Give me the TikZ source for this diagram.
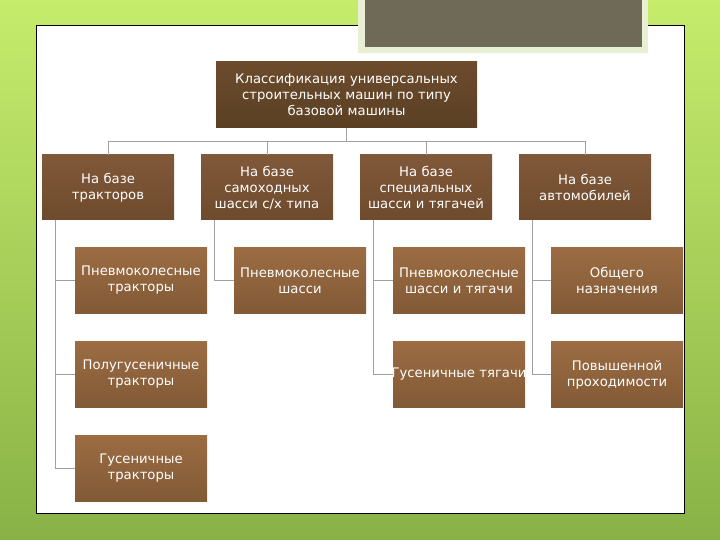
\documentclass[tikz,border=0pt]{standalone}
\usepackage{fontspec}
\setmainfont{DejaVu Sans}
\definecolor{bgtop}{HTML}{C6EC6C}
\definecolor{bgbot}{HTML}{88B246}
\definecolor{frameout}{HTML}{E9EFD5}
\definecolor{framein}{HTML}{6F6A58}
\definecolor{rootA}{HTML}{6C4B2C}
\definecolor{rootB}{HTML}{5A4024}
\definecolor{lvlA}{HTML}{80583A}
\definecolor{lvlB}{HTML}{6E4B2C}
\definecolor{leafA}{HTML}{9C6C43}
\definecolor{leafB}{HTML}{815A36}
\definecolor{connc}{HTML}{A0A0A0}
\begin{document}
\begin{tikzpicture}[x=1pt,y=-1pt,
  basebox/.style={rectangle, inner sep=0pt, text=white, align=center,
     font=\fontsize{13.2}{16}\selectfont},
  rootbox/.style={basebox, minimum width=261pt, minimum height=66pt, text width=258pt,
     top color=rootA, bottom color=rootB},
  lvlbox/.style={basebox, minimum width=132pt, minimum height=65pt, text width=132pt,
     top color=lvlA, bottom color=lvlB},
  leafbox/.style={basebox, minimum width=132pt, minimum height=66pt, text width=132pt,
     top color=leafA, bottom color=leafB},
  conn/.style={draw=connc, line width=0.7pt}]
\useasboundingbox (0,0) rectangle (720,540);
% background
\shade[top color=bgtop, bottom color=bgbot] (0,0) rectangle (720,540);
% white panel
\draw[fill=white, draw=black, line width=1pt] (36,26) rectangle (684,513);
% top photo frame
\fill[frameout] (358,-2) rectangle (648,53);
\fill[framein] (365,-2) rectangle (642,47);

% nodes
\node[rootbox] (top) at (346.5,95) {Классификация универсальных\\строительных машин по типу\\базовой машины};

\node[lvlbox] (b1) at (108,187.5) {На базе\\тракторов};
\node[lvlbox] (b2) at (267,187.5) {На базе\\самоходных\\шасси с/х типа};
\node[lvlbox] (b3) at (426,187.5) {На базе\\специальных\\шасси и тягачей};
\node[lvlbox] (b4) at (585,187.5) {На базе\\автомобилей};

\node[leafbox] (c11) at (141,280.5) {\makebox[0pt][c]{Пневмоколесные}\\тракторы};
\node[leafbox] (c12) at (141,374.5) {\makebox[0pt][c]{Полугусеничные}\\тракторы};
\node[leafbox] (c13) at (141,468) {Гусеничные\\тракторы};
\node[leafbox] (c21) at (300,280.5) {\makebox[0pt][c]{Пневмоколесные}\\шасси};
\node[leafbox] (c31) at (459,280.5) {\makebox[0pt][c]{Пневмоколесные}\\шасси и тягачи};
\node[leafbox] (c32) at (459,374.5) {\makebox[0pt][c]{Гусеничные тягачи}};
\node[leafbox] (c41) at (617,280.5) {Общего\\назначения};
\node[leafbox] (c42) at (617,374.5) {Повышенной\\проходимости};

% connectors
\draw[conn] (top.south) -- (top.south |- 0,141);
\draw[conn] (b1.north) |- (b4.north |- 0,141) -- (b4.north);
\draw[conn] (b2.north) -- (b2.north |- 0,141);
\draw[conn] (b3.north) -- (b3.north |- 0,141);

\draw[conn] ([xshift=14pt]b1.south west) |- (c11.west);
\draw[conn] ([xshift=14pt]b1.south west) |- (c12.west);
\draw[conn] ([xshift=14pt]b1.south west) |- (c13.west);
\draw[conn] ([xshift=14pt]b2.south west) |- (c21.west);
\draw[conn] ([xshift=14pt]b3.south west) |- (c31.west);
\draw[conn] ([xshift=14pt]b3.south west) |- (c32.west);
\draw[conn] ([xshift=14pt]b4.south west) |- (c41.west);
\draw[conn] ([xshift=14pt]b4.south west) |- (c42.west);
\end{tikzpicture}
\end{document}
